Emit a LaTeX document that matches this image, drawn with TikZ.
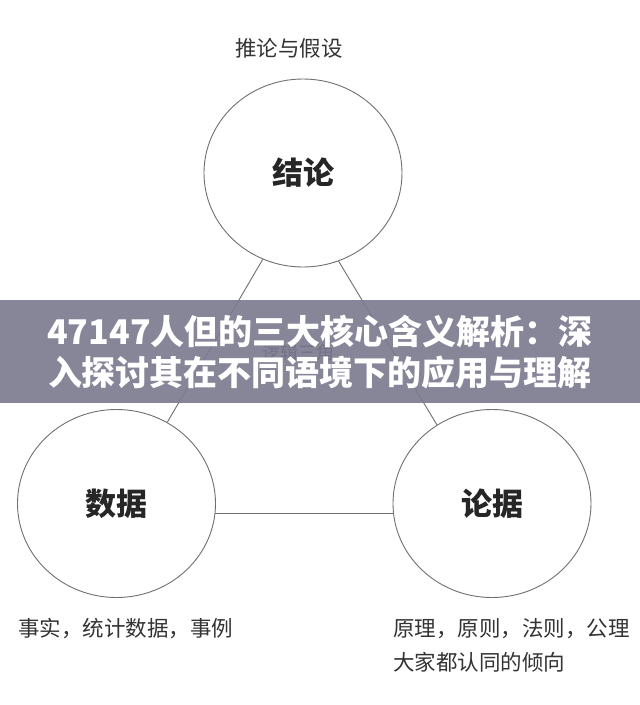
\documentclass[tikz,border=0pt]{standalone}
\usepackage{fontspec}
\setmainfont{Noto Sans CJK SC}
\usepackage{tikz}
\usetikzlibrary{shapes.geometric}
\definecolor{ringgray}{HTML}{707070}
\definecolor{txtgray}{HTML}{333333}
\definecolor{bannergray}{HTML}{7B798F}

\tikzset{
  bubble/.style={draw=ringgray,line width=0.9pt,ellipse,fill=white,
    minimum width=198pt,minimum height=188pt,inner sep=0pt,
    font=\fontsize{31}{36}\selectfont\bfseries,text=black!85},
  note/.style={font=\fontsize{21.5}{26}\selectfont,text=txtgray,inner sep=0pt},
  link/.style={draw=ringgray,line width=0.9pt}
}

\begin{document}
\begin{tikzpicture}[x=1pt,y=-1pt]
    \useasboundingbox (0,0) rectangle (640,705);
    \fill[white] (0,0) rectangle (640,705);
    % the three circles
    \node[bubble] (con) at (303,173) {结论};
    \node[bubble] (dat) at (116.5,503.5) {数据};
    \node[bubble] (war) at (492,503.5) {论据};
    \draw[link] (con.245) -- (dat.58);
    \draw[link] (con.292.5) -- (war.125);
    \draw[link] (dat.-6) -- (war.186);
    % notes
    \node[note] (top) at (289,48) {推论与假设};
    \node[note,anchor=west] (fact) at (18,629) {事实，统计数据，事例};
    \node[note,anchor=west] (rule) at (393,629) {原理，原则，法则，公理};
    \node[note,anchor=west] (view) at (393,662) {大家都认同的倾向};
    \node[note,font=\fontsize{18}{22}\selectfont] (mid) at (298,353) {逻辑三角};
    % banner
    \fill[bannergray,fill opacity=0.9] (0,300) rectangle (640,403);
    \node[text=white,font=\fontsize{34}{41}\selectfont\bfseries,align=center] (head) at (320,352.5)
      {47147人但的三大核心含义解析：深\\入探讨其在不同语境下的应用与理解};
\end{tikzpicture}
\end{document}
